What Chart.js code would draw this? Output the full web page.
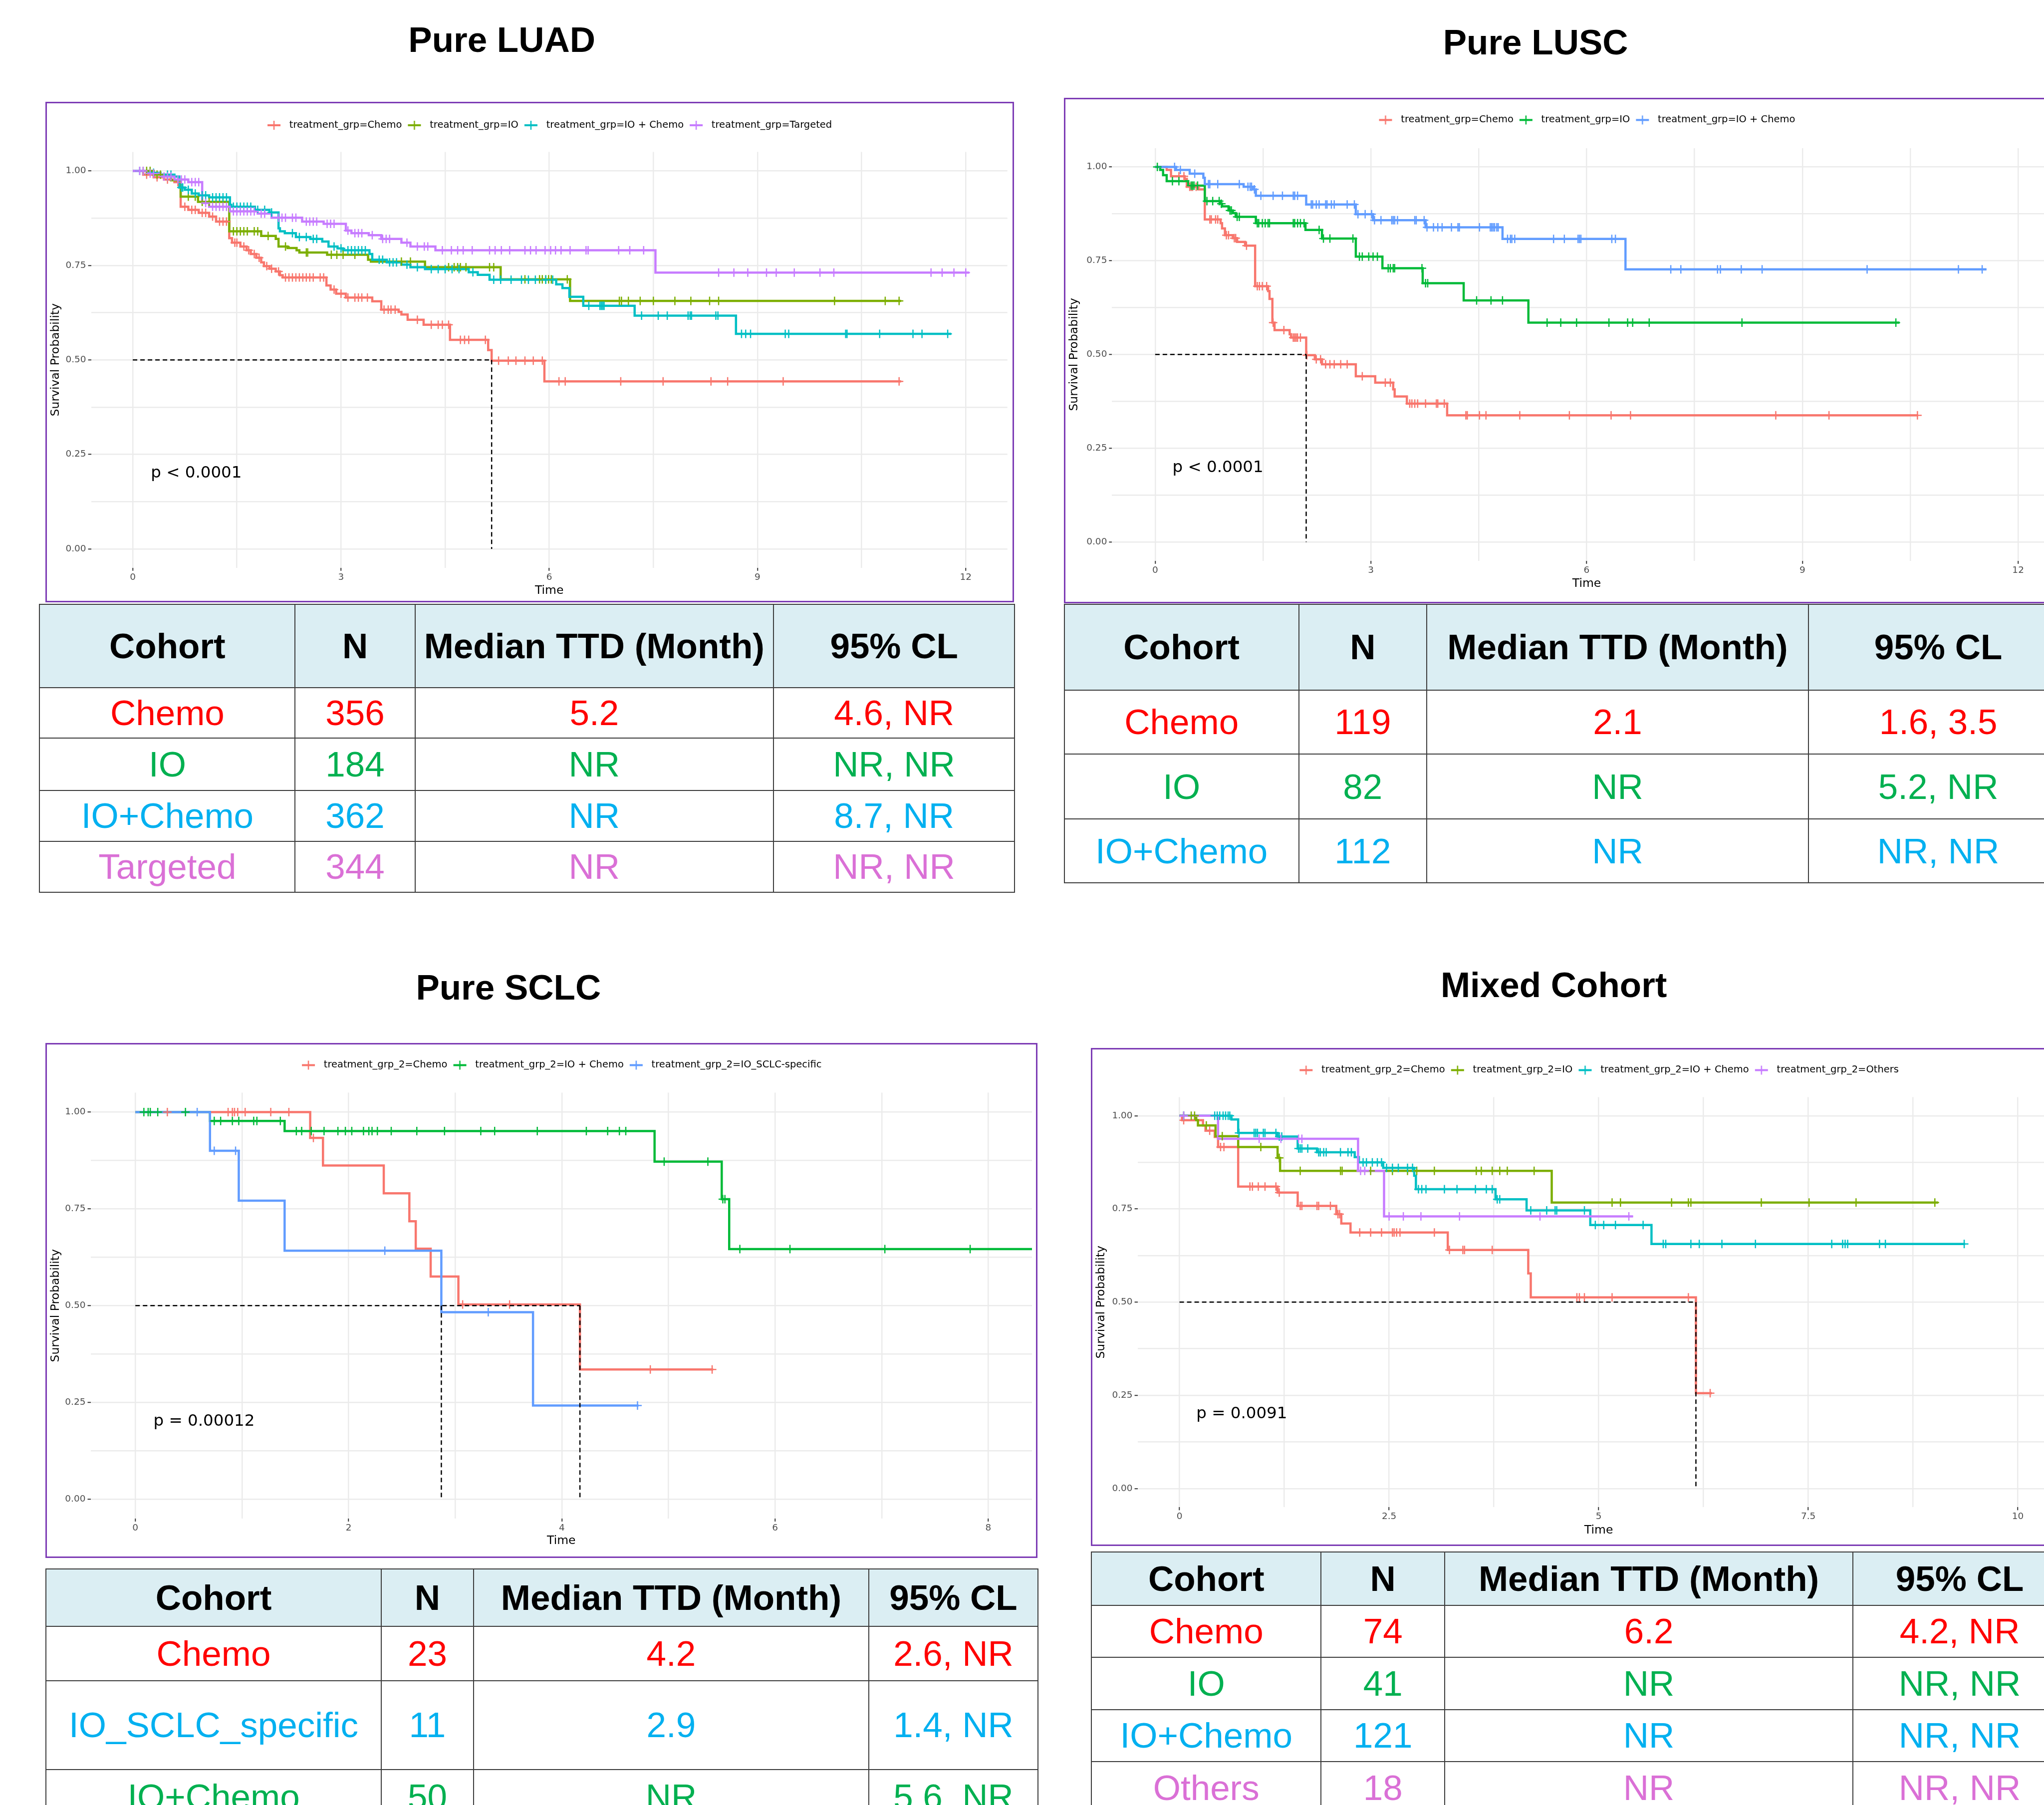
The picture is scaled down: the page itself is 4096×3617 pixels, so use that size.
<!DOCTYPE html>
<html>
<head>
<meta charset="utf-8">
<script src="https://cdn.jsdelivr.net/npm/chart.js@4.4.1/dist/chart.umd.min.js"></script>
<style>
html, body { margin: 0; padding: 0; overflow: hidden; background: #fff; }
body { width: 4096px; height: 3617px; position: relative; font-family: "Liberation Sans", Arial, sans-serif; }
.title { position: absolute; width: 1200px; text-align: center; font-weight: bold; font-size: 71px; line-height: 1; color: #000; }
.box { position: absolute; }
.box canvas { position: absolute; left: 0; top: 0; }
.frame { position: absolute; left: 0; top: 0; right: 0; bottom: 0; border: 3px solid #7d3cb5; box-sizing: border-box; pointer-events: none; }
table { position: absolute; border-collapse: collapse; table-layout: fixed; font-size: 71px; }
td, th { border: 2px solid #3c3c3c; padding: 0; text-align: center; vertical-align: middle; white-space: nowrap; line-height: 1; overflow: hidden; }
th { background: #dbeef3; font-weight: bold; color: #000; }
</style>
</head>
<body>
<script>
// ---------- shared ----------
const yGrid = [0, 0.125, 0.25, 0.375, 0.5, 0.625, 0.75, 0.875, 1];
const yTicks = [0, 0.25, 0.5, 0.75, 1];
const tableHeader = ["Cohort", "N", "Median TTD (Month)", "95% CL"];

// ---------- Pure LUAD ----------
const luadLegend = ["treatment_grp=Chemo", "treatment_grp=IO", "treatment_grp=IO + Chemo", "treatment_grp=Targeted"];
const luadChemo = [[0,1],[0.15,0.99],[0.3,0.983],[0.45,0.977],[0.6,0.97],[0.69,0.905],[0.8,0.897],[0.95,0.889],[1.1,0.879],[1.2,0.866],[1.39,0.822],[1.43,0.81],[1.55,0.8],[1.64,0.79],[1.7,0.78],[1.78,0.77],[1.85,0.758],[1.89,0.748],[1.97,0.741],[2.06,0.734],[2.12,0.724],[2.16,0.718],[2.79,0.697],[2.85,0.686],[2.93,0.675],[3.07,0.665],[3.45,0.655],[3.58,0.633],[3.83,0.627],[3.87,0.62],[3.96,0.606],[4.19,0.593],[4.57,0.553],[5.12,0.526],[5.17,0.498],[5.93,0.443]];
const luadIO = [[0,1],[0.3,0.99],[0.46,0.985],[0.55,0.975],[0.69,0.932],[0.94,0.918],[1.39,0.84],[1.85,0.828],[2.06,0.82],[2.1,0.8],[2.23,0.796],[2.36,0.79],[2.4,0.784],[2.8,0.778],[3.39,0.765],[3.43,0.76],[4.21,0.745],[5.3,0.713],[6.3,0.656]];
const luadIOChemo = [[0,1],[0.2,0.995],[0.4,0.99],[0.6,0.985],[0.67,0.956],[0.75,0.95],[0.85,0.94],[0.95,0.935],[1.1,0.93],[1.4,0.91],[1.42,0.905],[1.76,0.897],[1.97,0.89],[2.1,0.848],[2.12,0.84],[2.19,0.835],[2.35,0.825],[2.56,0.82],[2.73,0.813],[2.82,0.8],[2.95,0.795],[3.03,0.79],[3.41,0.78],[3.45,0.765],[3.66,0.758],[3.87,0.752],[4.0,0.745],[4.21,0.74],[4.84,0.732],[4.97,0.725],[5.14,0.712],[6.1,0.7],[6.19,0.69],[6.29,0.667],[6.49,0.643],[7.23,0.617],[8.69,0.569]];
const luadTargeted = [[0,1],[0.2,0.993],[0.4,0.985],[0.6,0.977],[0.8,0.97],[1.0,0.915],[1.1,0.905],[1.4,0.893],[1.8,0.887],[2.0,0.876],[2.44,0.866],[2.75,0.86],[3.07,0.842],[3.15,0.835],[3.4,0.83],[3.58,0.82],[3.87,0.81],[4.0,0.8],[4.36,0.79],[7.53,0.731]];
const luadEnds = [11.07, 11.07, 11.79, 12.05];
const luadChemoCens = [0.2,0.35,0.5,0.65,0.75,0.85,0.9,1.0,1.05,1.15,1.25,1.3,1.35,1.47,1.5,1.6,1.67,1.75,1.82,1.93,2.0,2.1,2.2,2.25,2.3,2.35,2.4,2.45,2.5,2.55,2.6,2.7,2.75,2.9,3.0,3.1,3.2,3.25,3.3,3.38,3.62,3.68,3.72,3.78,4.1,4.3,4.4,4.46,4.55,4.72,4.78,4.84,5.08,5.27,5.41,5.52,5.65,5.77,5.9,6.14,6.23,7.03,7.64,8.33,8.57,9.37,11.04];
const luadIOCens = [0.15,0.2,0.25,0.35,0.4,0.5,0.8,0.9,1.0,1.1,1.2,1.3,1.45,1.5,1.55,1.6,1.65,1.75,1.8,1.95,2.2,2.5,2.52,2.86,2.94,3.03,3.2,3.87,4.0,4.55,4.63,4.68,4.72,4.8,5.14,5.2,5.65,5.86,5.9,5.95,5.99,6.03,6.26,7.01,7.04,7.14,7.31,7.5,7.81,8.04,8.31,8.44,10.11,10.84,11.04];
const luadIOChemoCens = [0.1,0.3,0.5,0.55,0.7,0.72,0.8,0.9,1.0,1.05,1.15,1.2,1.25,1.3,1.35,1.45,1.5,1.55,1.6,1.65,1.7,1.8,1.9,2.0,2.3,2.4,2.5,2.6,2.65,2.9,3.0,3.1,3.15,3.2,3.25,3.3,3.35,3.55,3.6,3.7,3.75,3.8,3.95,4.1,4.3,4.4,4.5,4.6,4.7,4.9,5.2,5.3,5.45,5.6,5.7,5.8,5.95,6.05,6.57,6.73,6.75,6.77,6.79,7.33,7.57,7.7,8.0,8.03,8.05,8.4,8.43,8.77,8.83,8.9,9.4,9.45,10.27,10.29,10.76,11.24,11.37,11.74];
const luadTargetedCens = [0.1,0.15,0.25,0.3,0.45,0.5,0.55,0.65,0.7,0.75,0.85,0.9,0.95,1.05,1.15,1.2,1.25,1.3,1.35,1.45,1.5,1.55,1.6,1.65,1.7,1.75,1.85,1.9,2.1,2.15,2.2,2.3,2.35,2.5,2.55,2.6,2.65,2.8,2.85,2.9,3.1,3.2,3.25,3.3,3.45,3.6,3.65,3.7,3.95,4.1,4.2,4.25,4.46,4.59,4.68,4.76,4.89,5.14,5.22,5.31,5.43,5.65,5.73,5.81,5.94,6.02,6.09,6.17,6.3,6.53,6.56,7.0,7.16,7.36,8.44,8.66,8.86,9.13,9.27,9.53,9.9,10.1,11.5,11.66,11.83,12.0];
const luadMedians = [5.17];
const luadPval = "p < 0.0001";
const luadXGrid = [0, 1.5, 3, 4.5, 6, 7.5, 9, 10.5, 12];
const luadXTicks = [0, 3, 6, 9, 12];
const luadCohort = ["Chemo", "IO", "IO+Chemo", "Targeted"];
const luadN = ["356", "184", "362", "344"];
const luadMedianTTD = ["5.2", "NR", "NR", "NR"];
const luadCL = ["4.6, NR", "NR, NR", "8.7, NR", "NR, NR"];

// ---------- Pure LUSC ----------
const luscLegend = ["treatment_grp=Chemo", "treatment_grp=IO", "treatment_grp=IO + Chemo"];
const luscChemo = [[0,1],[0.16,0.992],[0.22,0.975],[0.41,0.968],[0.44,0.947],[0.6,0.94],[0.69,0.86],[0.91,0.85],[0.93,0.836],[0.97,0.818],[1.08,0.81],[1.14,0.8],[1.25,0.79],[1.39,0.682],[1.57,0.669],[1.59,0.648],[1.63,0.585],[1.66,0.565],[1.87,0.554],[1.89,0.545],[2.1,0.498],[2.22,0.487],[2.32,0.474],[2.79,0.442],[3.06,0.425],[3.31,0.407],[3.33,0.388],[3.5,0.369],[4.06,0.338]];
const luscIO = [[0,1],[0.07,0.992],[0.11,0.978],[0.16,0.962],[0.46,0.95],[0.69,0.909],[0.91,0.902],[0.93,0.895],[1.02,0.884],[1.08,0.877],[1.12,0.867],[1.4,0.85],[2.09,0.832],[2.32,0.809],[2.79,0.761],[3.16,0.73],[3.72,0.69],[4.29,0.644],[5.19,0.585]];
const luscIOChemo = [[0,1],[0.29,0.992],[0.48,0.982],[0.67,0.971],[0.69,0.954],[1.23,0.947],[1.36,0.94],[1.4,0.923],[2.1,0.9],[2.79,0.874],[3.03,0.858],[3.76,0.839],[4.83,0.808],[6.54,0.727]];
const luscEnds = [10.61, 10.35, 11.56];
const luscChemoCens = [0.33,0.4,0.48,0.5,0.52,0.57,0.76,0.78,0.84,0.87,0.99,1.02,1.1,1.12,1.27,1.42,1.45,1.49,1.55,1.64,1.79,1.92,1.94,1.96,1.98,2.02,2.11,2.24,2.3,2.37,2.43,2.49,2.58,2.67,2.88,3.2,3.27,3.54,3.57,3.61,3.65,3.76,3.91,3.93,4.02,4.32,4.34,4.51,4.6,5.07,5.76,6.34,6.61,8.63,9.37,10.6];
const luscIOCens = [0.03,0.24,0.33,0.5,0.52,0.54,0.59,0.72,0.8,0.89,0.92,1.04,1.06,1.14,1.17,1.42,1.44,1.49,1.53,1.57,1.59,1.92,1.94,1.98,2.02,2.07,2.28,2.34,2.43,2.75,2.84,2.88,2.97,3.03,3.09,3.24,3.27,3.31,3.33,3.71,3.76,3.79,4.47,4.67,4.83,5.45,5.64,5.86,6.31,6.57,6.64,6.87,8.16,10.3];
const luscIOChemoCens = [0.27,0.35,0.55,0.74,0.76,0.87,1.17,1.29,1.32,1.34,1.38,1.47,1.64,1.77,1.92,1.94,1.98,2.17,2.19,2.24,2.28,2.37,2.39,2.45,2.49,2.67,2.77,2.82,2.92,3.01,3.05,3.14,3.29,3.31,3.33,3.37,3.61,3.63,3.74,3.78,3.87,3.93,3.99,4.12,4.21,4.23,4.51,4.66,4.68,4.7,4.72,4.75,4.77,4.9,4.94,4.96,5.0,5.54,5.69,5.88,5.9,5.92,6.35,6.4,7.17,7.31,7.82,7.86,8.15,8.44,9.9,11.17,11.5];
const luscMedians = [2.1];
const luscPval = "p < 0.0001";
const luscXGrid = [0, 1.5, 3, 4.5, 6, 7.5, 9, 10.5, 12];
const luscXTicks = [0, 3, 6, 9, 12];
const luscCohort = ["Chemo", "IO", "IO+Chemo"];
const luscN = ["119", "82", "112"];
const luscMedianTTD = ["2.1", "NR", "NR"];
const luscCL = ["1.6, 3.5", "5.2, NR", "NR, NR"];

// ---------- Pure SCLC ----------
const sclcLegend = ["treatment_grp_2=Chemo", "treatment_grp_2=IO + Chemo", "treatment_grp_2=IO_SCLC-specific"];
const sclcChemo = [[0,1],[1.64,0.933],[1.76,0.862],[2.33,0.79],[2.57,0.718],[2.63,0.647],[2.77,0.575],[3.03,0.503],[4.17,0.335]];
const sclcIOChemo = [[0,1],[0.7,0.977],[1.4,0.951],[4.87,0.872],[5.5,0.775],[5.57,0.646]];
const sclcIOSpecific = [[0,1],[0.7,0.9],[0.97,0.771],[1.4,0.642],[2.87,0.483],[3.73,0.242]];
const sclcEnds = [5.42, 8.6, 4.72];
const sclcChemoCens = [0.3,0.87,0.91,0.93,0.96,1.03,1.27,1.44,1.67,3.07,3.51,4.83,5.41];
const sclcIOChemoCens = [0.08,0.12,0.14,0.21,0.47,0.74,0.8,0.91,0.97,1.11,1.14,1.36,1.51,1.56,1.65,1.77,1.9,1.97,2.03,2.14,2.19,2.22,2.27,2.4,2.64,2.9,3.24,3.37,3.77,4.23,4.43,4.54,4.6,4.96,5.37,5.51,5.53,5.67,6.14,7.03,7.83];
const sclcIOSpecificCens = [0.58,0.74,0.94,2.34,3.31,4.71];
const sclcMedians = [2.87, 4.17];
const sclcPval = "p = 0.00012";
const sclcXGrid = [0, 1, 2, 3, 4, 5, 6, 7, 8];
const sclcXTicks = [0, 2, 4, 6, 8];
const sclcCohort = ["Chemo", "IO_SCLC_specific", "IO+Chemo"];
const sclcN = ["23", "11", "50"];
const sclcMedianTTD = ["4.2", "2.9", "NR"];
const sclcCL = ["2.6, NR", "1.4, NR", "5.6, NR"];

// ---------- Mixed Cohort ----------
const mixLegend = ["treatment_grp_2=Chemo", "treatment_grp_2=IO", "treatment_grp_2=IO + Chemo", "treatment_grp_2=Others"];
const mixChemo = [[0,1],[0.03,0.988],[0.28,0.974],[0.31,0.96],[0.42,0.943],[0.46,0.916],[0.7,0.81],[1.17,0.794],[1.41,0.758],[1.87,0.736],[1.93,0.711],[2.04,0.687],[3.2,0.64],[4.16,0.577],[4.19,0.513],[6.16,0.256]];
const mixIO = [[0,1],[0.2,0.988],[0.22,0.974],[0.43,0.945],[0.7,0.916],[1.17,0.887],[1.2,0.852],[4.44,0.767]];
const mixIOChemo = [[0,1],[0.62,0.99],[0.7,0.954],[1.17,0.944],[1.41,0.912],[1.64,0.902],[2.09,0.889],[2.14,0.875],[2.43,0.86],[2.8,0.839],[2.82,0.803],[3.77,0.776],[4.14,0.746],[4.9,0.707],[5.63,0.656]];
const mixOthers = [[0,1],[0.46,0.938],[2.13,0.852],[2.44,0.73]];
const mixEnds = [6.35, 9.05, 9.37, 5.41];
const mixChemoCens = [0.05,0.36,0.49,0.53,0.84,0.87,0.94,1.02,1.15,1.19,1.44,1.46,1.64,1.66,1.8,1.89,1.91,2.15,2.28,2.41,2.54,2.56,2.59,2.63,3.04,3.22,3.38,3.4,3.73,4.74,4.77,4.83,5.16,6.07,6.33];
const mixIOCens = [0.05,0.14,0.18,0.32,0.51,0.97,1.19,1.44,1.92,1.94,2.28,2.54,2.72,2.83,3.04,3.54,3.6,3.73,3.82,3.91,4.23,5.16,5.26,5.87,6.07,6.1,6.94,7.51,8.07,9.01];
const mixIOChemoCens = [0.05,0.42,0.45,0.48,0.52,0.55,0.58,0.6,0.71,0.89,0.91,0.93,1.0,1.02,1.15,1.19,1.22,1.42,1.44,1.46,1.53,1.66,1.68,1.72,1.75,1.92,2.01,2.05,2.19,2.23,2.3,2.36,2.41,2.47,2.54,2.61,2.72,2.78,2.85,2.89,2.94,3.16,3.31,3.53,3.66,3.73,3.79,3.82,4.19,4.38,4.48,4.5,4.83,4.96,5.06,5.2,5.53,5.77,5.8,6.1,6.2,6.47,6.87,7.78,7.91,7.94,7.97,8.35,8.42,9.36];
const mixOthersCens = [0.05,0.95,1.21,1.42,1.46,2.16,2.21,2.5,2.67,2.88,3.34,4.3,5.36];
const mixMedians = [6.16];
const mixPval = "p = 0.0091";
const mixXGrid = [0, 1.25, 2.5, 3.75, 5, 6.25, 7.5, 8.75, 10];
const mixXTicks = [0, 2.5, 5, 7.5, 10];
const mixCohort = ["Chemo", "IO", "IO+Chemo", "Others"];
const mixN = ["74", "41", "121", "18"];
const mixMedianTTD = ["6.2", "NR", "NR", "NR"];
const mixCL = ["4.2, NR", "NR, NR", "NR, NR", "NR, NR"];

// ---------- styles ----------
const pal4 = ["#F8766D", "#7CAE00", "#00BFC4", "#C77CFF"];
const pal3 = ["#F8766D", "#00BA38", "#619CFF"];
const RED = "#FF0000", GREEN = "#00B050", BLUE = "#00B0F0", PINK = "#DA70D6";
const plotFont = "DejaVu Sans";

const panels = [
  {
    title: "Pure LUAD", titleAt: [1005.7, 78.4],
    curves: [luadChemo, luadIO, luadIOChemo, luadTargeted], ends: luadEnds,
    cens: [luadChemoCens, luadIOCens, luadIOChemoCens, luadTargetedCens],
    legend: luadLegend, colors: pal4, medians: luadMedians, pval: luadPval, pvalAt: [0.26, 0.2],
    xRange: [-0.6, 12.6], xGrid: luadXGrid, xTicks: luadXTicks,
    box: { left: 91.4, top: 203.8, w: 1941, h: 1003 },
    area: { l: 91.6, r: 1927.7, t: 100.5, b: 933.8 }, legendCy: 47, yTitleCx: 21, timeCy: 979.5,
    table: { left: 78.4, top: 1209.5, cols: [512, 240.3, 718.3, 483.3], rows: [167.1, 101.9, 104.5, 101.9, 101.8] },
    rows: [luadCohort, luadN, luadMedianTTD, luadCL], rowColors: [RED, GREEN, BLUE, PINK]
  },
  {
    title: "Pure LUSC", titleAt: [3077.2, 83.6],
    curves: [luscChemo, luscIO, luscIOChemo], ends: luscEnds,
    cens: [luscChemoCens, luscIOCens, luscIOChemoCens],
    legend: luscLegend, colors: pal3, medians: luscMedians, pval: luscPval, pvalAt: [0.24, 0.198],
    xRange: [-0.6, 12.6], xGrid: luscXGrid, xTicks: luscXTicks,
    box: { left: 2131.6, top: 195.9, w: 2050, h: 1013.6 },
    area: { l: 96.4, r: 1998.6, t: 100.9, b: 928.4 }, legendCy: 44.4, yTitleCx: 20.9, timeCy: 974.4,
    table: { left: 2131.6, top: 1209.5, cols: [470.2, 256, 765.4, 519.8], rows: [172.4, 128, 130.6, 128] },
    rows: [luscCohort, luscN, luscMedianTTD, luscCL], rowColors: [RED, GREEN, BLUE]
  },
  {
    title: "Pure SCLC", titleAt: [1018.8, 1977.4],
    curves: [sclcChemo, sclcIOChemo, sclcIOSpecific], ends: sclcEnds,
    cens: [sclcChemoCens, sclcIOChemoCens, sclcIOSpecificCens],
    legend: sclcLegend, colors: pal3, medians: sclcMedians, pval: sclcPval, pvalAt: [0.17, 0.2],
    xRange: [-0.42, 8.41], xGrid: sclcXGrid, xTicks: sclcXTicks,
    box: { left: 91.4, top: 2089.8, w: 1988, h: 1032 },
    area: { l: 90.5, r: 1979.2, t: 99.6, b: 953 }, legendCy: 44.4, yTitleCx: 21, timeCy: 997.8,
    table: { left: 91.4, top: 3142.5, cols: [671.3, 185.5, 791.5, 339.6], rows: [115, 109.7, 177.6, 109.7] },
    rows: [sclcCohort, sclcN, sclcMedianTTD, sclcCL], rowColors: [RED, BLUE, GREEN]
  },
  {
    title: "Mixed Cohort", titleAt: [3113.7, 1972.2],
    curves: [mixChemo, mixIO, mixIOChemo, mixOthers], ends: mixEnds,
    cens: [mixChemoCens, mixIOCens, mixIOChemoCens, mixOthersCens],
    legend: mixLegend, colors: pal4, medians: mixMedians, pval: mixPval, pvalAt: [0.2, 0.2],
    xRange: [-0.5, 10.5], xGrid: mixXGrid, xTicks: mixXTicks,
    box: { left: 2186.4, top: 2100.2, w: 2000, h: 998 },
    area: { l: 93.6, r: 1941.6, t: 98.4, b: 920.3 }, legendCy: 44.4, yTitleCx: 20.9, timeCy: 966.5,
    table: { left: 2186.4, top: 3108.5, cols: [459.7, 248.2, 817.6, 428.4], rows: [107.1, 104.5, 104.5, 104.5, 104.5] },
    rows: [mixCohort, mixN, mixMedianTTD, mixCL], rowColors: [RED, GREEN, BLUE, PINK]
  }
];

// survival value of a step curve at time t
const survAt = (steps, t) => {
  let s = steps[0][1];
  for (const [tt, ss] of steps) {
    if (tt <= t) s = ss; else break;
  }
  return s;
};

// legend key like ggplot: short line with a "+" on it
const keyImage = (color) => {
  const c = document.createElement("canvas");
  c.width = 36; c.height = 20;
  const g = c.getContext("2d");
  g.strokeStyle = color;
  g.lineWidth = 4;
  g.beginPath(); g.moveTo(2, 10); g.lineTo(28, 10); g.stroke();
  g.lineWidth = 2.5;
  g.beginPath(); g.moveTo(15, 1); g.lineTo(15, 19); g.stroke();
  return c;
};

const hasVal = (arr, v) => arr.some(a => Math.abs(a - v) < 1e-9);

// extra room under the legend
const legendGap = {
  id: "legendGap",
  afterInit(chart, args, opts) {
    const lg = chart.legend;
    if (!lg) return;
    const fit = lg.fit.bind(lg);
    lg.fit = function () { fit(); this.height += opts.gap; };
  }
};

const pvalText = {
  id: "pvalText",
  afterDatasetsDraw(chart, args, o) {
    const { ctx, scales: { x, y } } = chart;
    ctx.save();
    ctx.font = "32.5px \"" + plotFont + "\"";
    ctx.fillStyle = "#000";
    ctx.textAlign = "left";
    ctx.textBaseline = "middle";
    ctx.fillText(o.text, x.getPixelForValue(o.x), y.getPixelForValue(o.y));
    ctx.restore();
  }
};

const addDiv = (cls, css, html) => {
  const d = document.createElement("div");
  d.className = cls;
  Object.assign(d.style, css);
  if (html !== undefined) d.innerHTML = html;
  document.body.appendChild(d);
  return d;
};

const makeTable = (p) => {
  const t = document.createElement("table");
  const tb = p.table;
  t.style.left = tb.left + "px";
  t.style.top = tb.top + "px";
  t.style.width = tb.cols.reduce((a, b) => a + b, 0) + "px";
  let html = "<colgroup>" + tb.cols.map(w => "<col style=\"width:" + w + "px\">").join("") + "</colgroup>";
  html += "<tr style=\"height:" + tb.rows[0] + "px\">" + tableHeader.map(h => "<th>" + h + "</th>").join("") + "</tr>";
  p.rows[0].forEach((c, i) => {
    const col = p.rowColors[i];
    html += "<tr style=\"height:" + tb.rows[i + 1] + "px;color:" + col + "\">";
    p.rows.forEach(r => { html += "<td>" + r[i] + "</td>"; });
    html += "</tr>";
  });
  t.innerHTML = html;
  document.body.appendChild(t);
};

const makePanel = (p) => {
  addDiv("title", { left: (p.titleAt[0] - 600) + "px", top: (p.titleAt[1] - 34.7) + "px" }, p.title);

  const box = addDiv("box", { left: p.box.left + "px", top: p.box.top + "px", width: p.box.w + "px", height: p.box.h + "px" });
  const cv = document.createElement("canvas");
  cv.width = p.box.w; cv.height = p.box.h;
  cv.style.width = p.box.w + "px"; cv.style.height = p.box.h + "px";
  box.appendChild(cv);
  const frame = document.createElement("div");
  frame.className = "frame";
  box.appendChild(frame);

  const datasets = [];
  p.curves.forEach((steps, k) => {
    const pts = steps.map(([t, s]) => ({ x: t, y: s }));
    pts.push({ x: p.ends[k], y: steps[steps.length - 1][1] });
    datasets.push({
      label: p.legend[k],
      data: pts,
      stepped: "before",
      borderColor: p.colors[k],
      backgroundColor: p.colors[k],
      borderWidth: 4.5,
      pointRadius: 0,
      pointHoverRadius: 0,
      pointStyle: keyImage(p.colors[k]),
      fill: false,
      order: 100 - k
    });
  });
  p.cens.forEach((ts, k) => {
    datasets.push({
      label: "",
      data: ts.map(t => ({ x: t, y: survAt(p.curves[k], t) })),
      showLine: false,
      pointStyle: "cross",
      pointRadius: 8.5,
      pointHoverRadius: 8.5,
      pointBorderWidth: 2.5,
      borderColor: p.colors[k],
      pointBorderColor: p.colors[k],
      order: 50 - k
    });
  });
  const mMax = Math.max(...p.medians);
  const dashed = (pts) => ({
    label: "", data: pts, borderColor: "#000", borderWidth: 2.5, borderDash: [9, 6],
    pointRadius: 0, pointHoverRadius: 0, fill: false, order: 0
  });
  datasets.push(dashed([{ x: 0, y: 0.5 }, { x: mMax, y: 0.5 }]));
  p.medians.forEach(m => datasets.push(dashed([{ x: m, y: 0.5 }, { x: m, y: 0 }])));

  const A = p.area;
  const lgFont = 19.5, lgPad = 10;
  const padTop = p.legendCy - (lgPad + lgFont / 2);
  const gap = A.t - padTop - (lgFont + lgPad + 10);
  const titleFont = 23.5;
  const tickFont = 18.5;

  new Chart(cv, {
    type: "line",
    data: { datasets },
    options: {
      responsive: false,
      animation: false,
      devicePixelRatio: 1,
      events: [],
      layout: { padding: { top: padTop, right: p.box.w - A.r, left: 0, bottom: 0 } },
      plugins: {
        legend: {
          position: "top",
          fullSize: false,
          labels: {
            usePointStyle: true,
            pointStyleWidth: 36,
            padding: lgPad,
            color: "#000",
            font: { family: plotFont, size: lgFont },
            filter: it => it.text !== "",
            sort: (a, b) => a.datasetIndex - b.datasetIndex
          }
        },
        tooltip: { enabled: false },
        legendGap: { gap },
        pvalText: { text: p.pval, x: p.pvalAt[0], y: p.pvalAt[1] }
      },
      scales: {
        x: {
          type: "linear",
          min: p.xRange[0],
          max: p.xRange[1],
          afterBuildTicks: sc => { sc.ticks = p.xGrid.map(v => ({ value: v })); },
          afterFit: sc => { sc.height = p.box.h - A.b; },
          ticks: {
            autoSkip: false, maxRotation: 0, minRotation: 0, padding: 2,
            color: "#4d4d4d", font: { family: plotFont, size: tickFont },
            callback: v => hasVal(p.xTicks, v) ? String(v) : ""
          },
          grid: {
            color: "#ebebeb", lineWidth: 2.5, tickLength: 6, tickWidth: 2,
            tickColor: c => (c.tick && hasVal(p.xTicks, c.tick.value)) ? "#333" : "rgba(0,0,0,0)"
          },
          border: { display: false },
          title: {
            display: true, text: "Time", color: "#000",
            font: { family: plotFont, size: titleFont },
            padding: { top: 0, bottom: (p.box.h - p.timeCy) - titleFont * 0.6 }
          }
        },
        y: {
          type: "linear",
          min: -0.05,
          max: 1.05,
          afterBuildTicks: sc => { sc.ticks = yGrid.map(v => ({ value: v })); },
          afterFit: sc => { sc.width = A.l; },
          ticks: {
            autoSkip: false, padding: 4,
            color: "#4d4d4d", font: { family: plotFont, size: tickFont },
            callback: v => hasVal(yTicks, v) ? v.toFixed(2) : ""
          },
          grid: {
            color: "#ebebeb", lineWidth: 2.5, tickLength: 6, tickWidth: 2,
            tickColor: c => (c.tick && hasVal(yTicks, c.tick.value)) ? "#333" : "rgba(0,0,0,0)"
          },
          border: { display: false },
          title: {
            display: true, text: "Survival Probability", color: "#000",
            font: { family: plotFont, size: titleFont },
            padding: { top: p.yTitleCx - titleFont * 0.6, bottom: 0 }
          }
        }
      }
    },
    plugins: [legendGap, pvalText]
  });

  makeTable(p);
};

panels.forEach(makePanel);
</script>
</body>
</html>
